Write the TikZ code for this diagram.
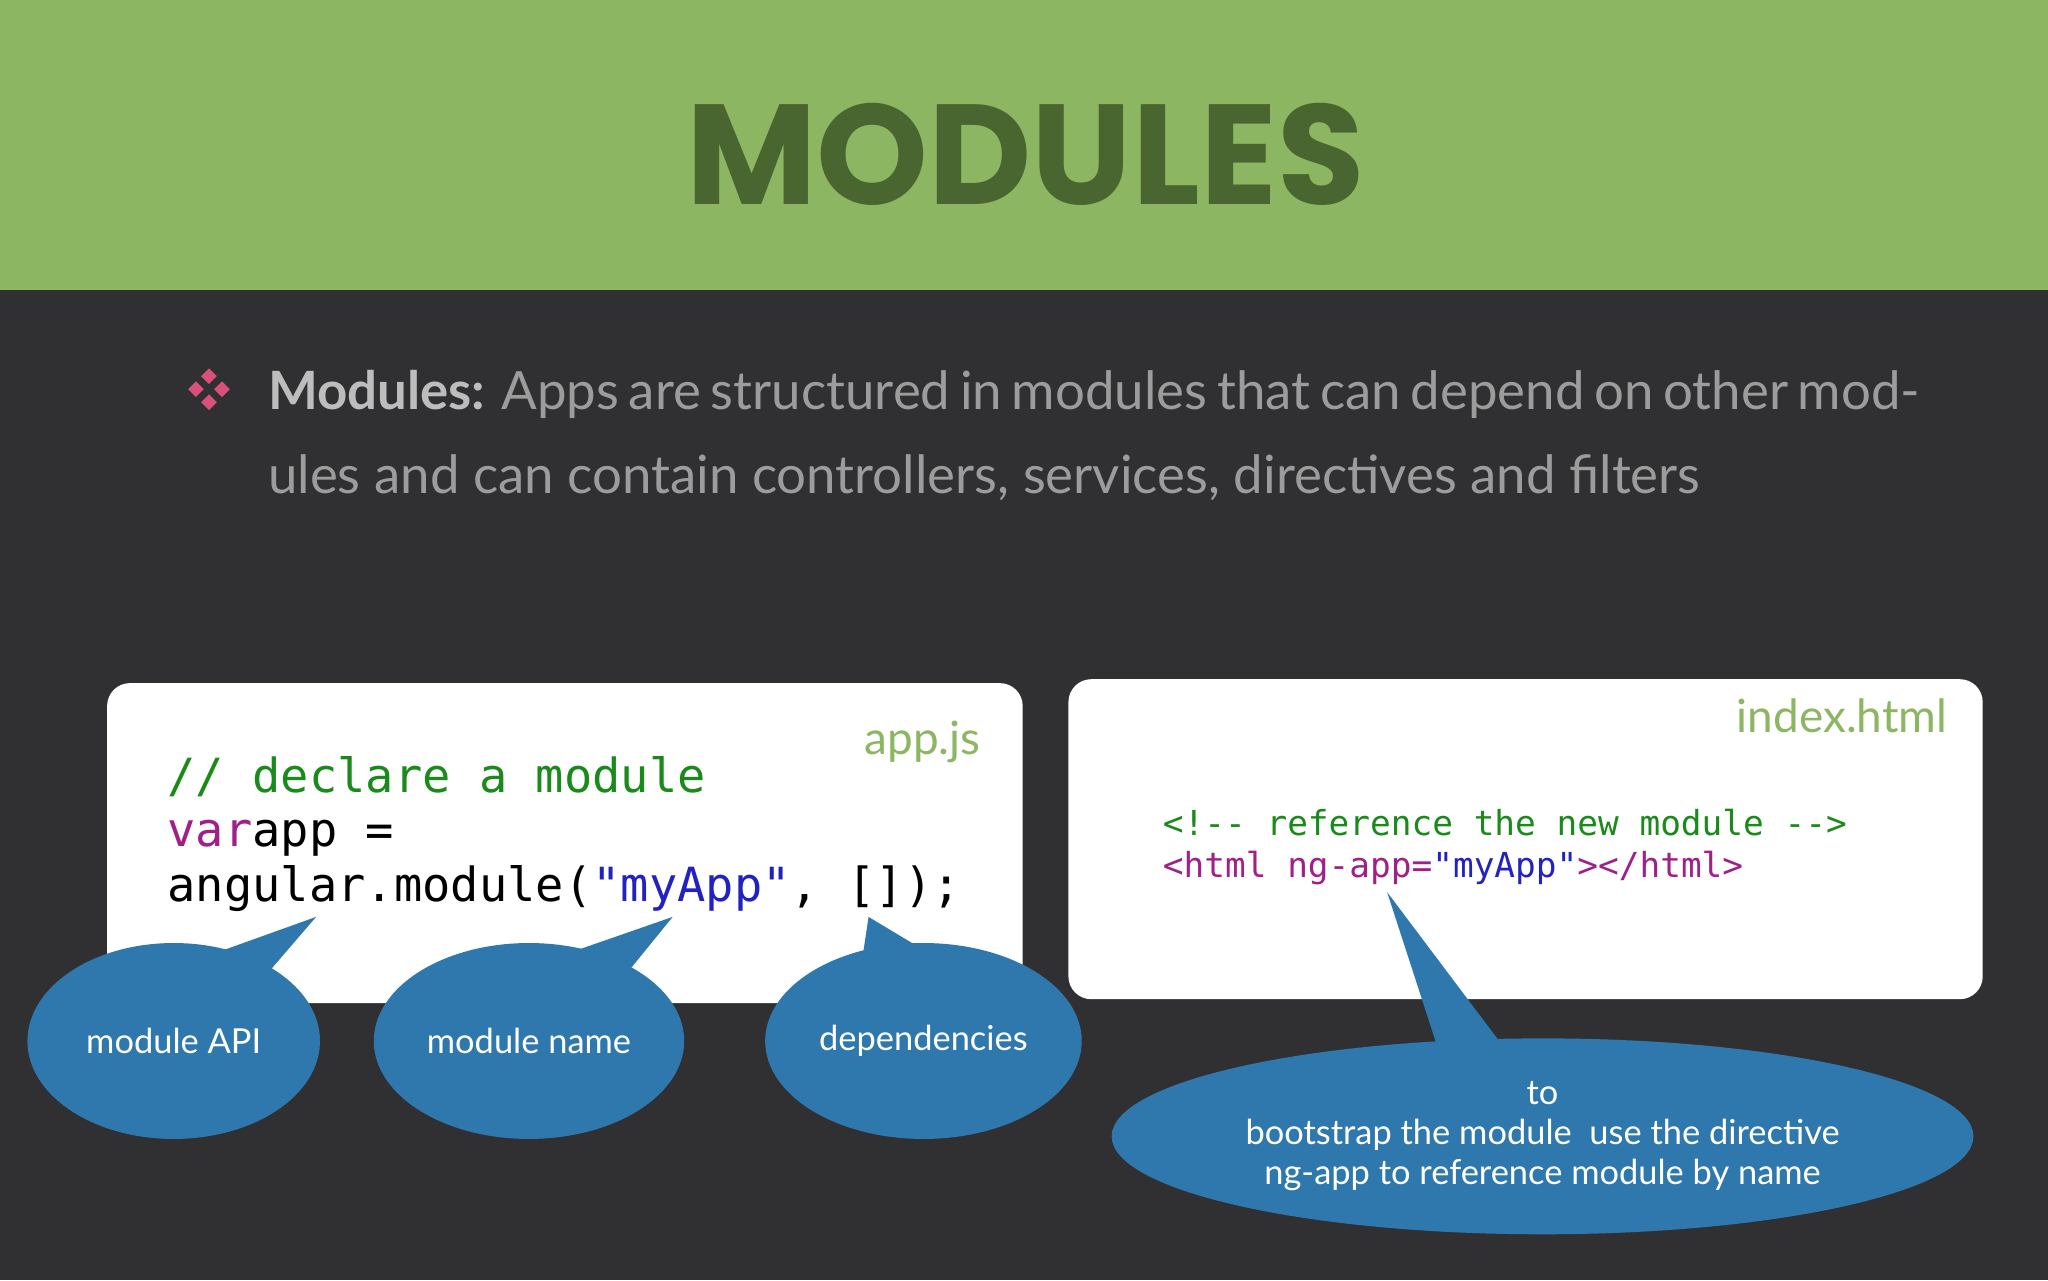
\documentclass[tikz,border=0pt]{standalone}
\usepackage{fontspec}
\setmainfont{Lato}
\newfontfamily\titlefont{Poppins}
\newfontfamily\codefont{DejaVu Sans Mono}
\usetikzlibrary{shapes.geometric}
\definecolor{bandgreen}{HTML}{8DB663}
\definecolor{titlegreen}{HTML}{4A6630}
\definecolor{bgdark}{HTML}{303032}
\definecolor{bodygray}{HTML}{9C9C9C}
\definecolor{boldgray}{HTML}{BDBDBD}
\definecolor{pinkd}{HTML}{D9507A}
\definecolor{bubble}{HTML}{2E78AE}
\definecolor{cmt}{HTML}{1A8A1A}
\definecolor{kw}{HTML}{A0208A}
\definecolor{str}{HTML}{2222C0}
\begin{document}
\begin{tikzpicture}[x=0.02cm,y=-0.02cm,
  card/.style={fill=white,rounded corners=0.35cm},
  fname/.style={text=bandgreen,font=\fontsize{20}{24}\selectfont,anchor=base east},
  bub/.style={fill=bubble},
  btext/.style={text=white,font=\fontsize{15}{21}\selectfont,align=center}]
\fill[bgdark] (0,0) rectangle (1568,980);
\useasboundingbox (0,0) rectangle (1568,980);
\fill[bandgreen] (0,0) rectangle (1568,222);
\node[text=titlegreen,font=\titlefont\bfseries\fontsize{62}{70}\selectfont] (title) at (785,118) {MODULES};
% bullet
\foreach \dx/\dy in {0/-10,-10/0,10/0,0/10}
  \fill[pinkd] (160+\dx,298+\dy) +(0,-6) -- +(6,0) -- +(0,6) -- +(-6,0) -- cycle;
\node[anchor=north west,text width=25.3cm,align=justify,text=bodygray,inner sep=0,
  font=\fontsize{23}{36.9}\selectfont] (body) at (205,283)
  {{\color{boldgray}\bfseries Modules:} Apps are structured in modules that can depend on other modules and can contain controllers, services, directives and filters};
% cards
\fill[card] (82,523) rectangle (783,768);
\fill[card] (818,520) rectangle (1518,765);
\node[fname] (appjs) at (757,578) {app.js};
\node[fname] (index) at (1497,561) {index.html};
\node[anchor=base west,inner sep=0,font=\codefont\fontsize{20.5}{24}\selectfont] (c1) at (128,607) {\color{cmt}// declare a module};
\node[anchor=base west,inner sep=0,font=\codefont\fontsize{20.5}{24}\selectfont] (c2) at (128,648) {\color{kw}var\color{black} app =};
\node[anchor=base west,inner sep=0,font=\codefont\fontsize{20.5}{24}\selectfont] (c3) at (128,690) {angular.module(\color{str}"myApp"\color{black}, []);};
\node[anchor=base west,inner sep=0,font=\codefont\fontsize{15}{18}\selectfont] (h1) at (890,640) {\color{cmt}<!-- reference the new module -->};
\node[anchor=base west,inner sep=0,font=\codefont\fontsize{15}{18}\selectfont] (h2) at (890,672) {\color{kw}<html ng-app=\color{str}"myApp"\color{kw}></html>};
% bubbles
\fill[bub] (242,702) -- (150,735) -- (205,745) -- cycle;
\node[bub,ellipse,minimum width=224*0.02cm,minimum height=150*0.02cm,btext] (b1) at (133,797) {module API};
\fill[bub] (515,702) -- (420,735) -- (480,745) -- cycle;
\node[bub,ellipse,minimum width=224*0.02cm,minimum height=150*0.02cm,btext] (b2) at (405,797) {module name};
\fill[bub] (665,702) -- (660,735) -- (720,735) -- cycle;
\node[bub,ellipse,minimum width=224*0.02cm,minimum height=150*0.02cm,btext] (b3) at (707,797) {dependencies};
\fill[bub] (1062,683) -- (1100,800) -- (1150,800) -- cycle;
\node[bub,ellipse,minimum width=642*0.02cm,minimum height=150*0.02cm,btext,font=\fontsize{15}{17.5}\selectfont] (b4) at (1181,870) {to\\bootstrap the module\ \ use the directive\\ng-app to reference module by name};
\end{tikzpicture}
\end{document}
